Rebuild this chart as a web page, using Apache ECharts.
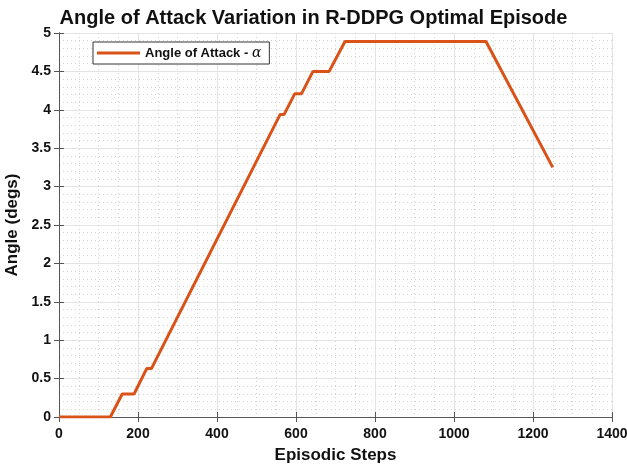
<!DOCTYPE html>
<html><head><meta charset="utf-8">
<script src="https://cdn.jsdelivr.net/npm/echarts@6/dist/echarts.min.js"></script>
<style>html,body{margin:0;padding:0;background:#fff}#c{width:627px;height:469px}</style>
</head><body><div id="c"></div>
<script>
// Breakpoints of the angle-of-attack trace (episodic step, angle in degrees)
const steps  = [0, 130, 160, 190, 222, 234, 560, 570, 597, 614, 643, 684, 724, 1081, 1087, 1091, 1250];
const angles = [0, 0,   0.30, 0.30, 0.63, 0.63, 3.94, 3.94, 4.21, 4.21, 4.50, 4.50, 4.89, 4.89, 4.83, 4.83, 3.25];
const xTicks = [0, 200, 400, 600, 800, 1000, 1200, 1400];
const yTicks = [0, 0.5, 1, 1.5, 2, 2.5, 3, 3.5, 4, 4.5, 5];
const seriesName = 'Angle of Attack - α';

const font = 'Liberation Sans, Arial, sans-serif';
const axisCol = '#555';
const data = steps.map((s, i) => [s, angles[i]]);
const chart = echarts.init(document.getElementById('c'));
const fmt = v => String(v);
chart.setOption({
  animation: false,
  backgroundColor: '#fff',
  title: {
    text: 'Angle of Attack Variation in R-DDPG Optimal Episode',
    left: 'center', top: 3,
    textStyle: {fontFamily: font, fontWeight: 'bold', fontSize: 20, color: '#111'}
  },
  grid: {left: 59, right: 15, top: 33, bottom: 52, show: false, outerBoundsMode: 'none', containLabel: false},
  legend: {
    left: 93, top: 42,
    padding: [4, 8, 4, 4],
    borderColor: '#333', borderWidth: 1, backgroundColor: '#fff',
    itemWidth: 43, itemHeight: 3, icon: 'rect', itemGap: 6,
    data: [seriesName],
    formatter: () => '{a|Angle of Attack - }{b|α}',
    textStyle: {
      rich: {
        a: {fontFamily: font, fontWeight: 'bold', fontSize: 13, color: '#111'},
        b: {fontFamily: 'DejaVu Serif, Liberation Serif, serif', fontStyle: 'italic', fontSize: 14, color: '#111'}
      }
    }
  },
  xAxis: [{
    type: 'value', min: xTicks[0], max: xTicks[xTicks.length - 1], interval: 200,
    name: 'Episodic Steps', nameLocation: 'middle', nameGap: 30,
    nameTextStyle: {fontFamily: font, fontWeight: 'bold', fontSize: 17, color: '#111'},
    axisLine: {show: true, onZero: false, lineStyle: {color: axisCol, width: 1}},
    axisTick: {show: true, inside: true, length: 5, lineStyle: {color: axisCol}},
    axisLabel: {fontFamily: font, fontWeight: 'bold', fontSize: 14, color: '#111', margin: 10, formatter: fmt},
    splitLine: {show: true, lineStyle: {color: '#e3e3e3', width: 1}},
    minorTick: {show: false, splitNumber: 4},
    minorSplitLine: {show: true, lineStyle: {color: '#d2d2d2', width: 1, type: [1, 3]}}
  }, {
    type: 'value', position: 'top', min: 0, max: 1400, interval: 200,
    axisLine: {show: true, lineStyle: {color: axisCol}},
    axisTick: {show: true, inside: true, length: 5, lineStyle: {color: axisCol}},
    axisLabel: {show: false}, splitLine: {show: false}
  }],
  yAxis: [{
    type: 'value', min: yTicks[0], max: yTicks[yTicks.length - 1], interval: 0.5,
    name: 'Angle (degs)', nameLocation: 'middle', nameGap: 38,
    nameTextStyle: {fontFamily: font, fontWeight: 'bold', fontSize: 17, color: '#111'},
    axisLine: {show: true, onZero: false, lineStyle: {color: axisCol, width: 1}},
    axisTick: {show: true, inside: true, length: 5, lineStyle: {color: axisCol}},
    axisLabel: {fontFamily: font, fontWeight: 'bold', fontSize: 14, color: '#111', margin: 8, formatter: fmt},
    splitLine: {show: true, lineStyle: {color: '#e3e3e3', width: 1}},
    minorTick: {show: false, splitNumber: 5},
    minorSplitLine: {show: true, lineStyle: {color: '#d2d2d2', width: 1, type: [1, 3]}}
  }, {
    type: 'value', position: 'right', min: 0, max: 5, interval: 0.5,
    axisLine: {show: true, lineStyle: {color: axisCol}},
    axisTick: {show: true, inside: true, length: 5, lineStyle: {color: axisCol}},
    axisLabel: {show: false}, splitLine: {show: false}
  }],
  series: [{
    name: seriesName, type: 'line', data: data,
    showSymbol: false, symbol: 'none',
    lineStyle: {color: '#D95319', width: 3},
    itemStyle: {color: '#D95319'}
  }]
});
</script></body></html>
